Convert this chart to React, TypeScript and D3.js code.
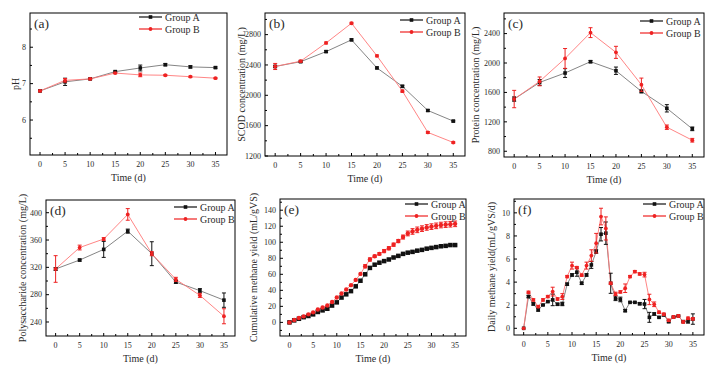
import React from 'react';
import * as d3 from 'd3';

// sampling days
const days8 = [0, 5, 10, 15, 20, 25, 30, 35];
const days36 = [0, 1, 2, 3, 4, 5, 6, 7, 8, 9, 10, 11, 12, 13, 14, 15, 16, 17, 18, 19, 20,
  21, 22, 23, 24, 25, 26, 27, 28, 29, 30, 31, 32, 33, 34, 35];

// (a) pH
const phA = [6.8, 7.05, 7.13, 7.33, 7.43, 7.52, 7.46, 7.44];
const phAErr = [0.02, 0.1, 0.02, 0.02, 0.08, 0.03, 0.03, 0.02];
const phB = [6.8, 7.09, 7.13, 7.29, 7.24, 7.23, 7.19, 7.15];
const phBErr = [0.02, 0.05, 0.02, 0.02, 0.05, 0.02, 0.02, 0.02];

// (b) SCOD
const scodA = [2380, 2443, 2576, 2731, 2361, 2118, 1800, 1660];
const scodAErr = [15, 10, 12, 12, 12, 15, 12, 10];
const scodB = [2380, 2450, 2690, 2950, 2520, 2055, 1511, 1378];
const scodBErr = [40, 12, 12, 12, 12, 15, 12, 10];

// (c) protein
const protA = [1510, 1736, 1864, 2018, 1895, 1614, 1384, 1105];
const protAErr = [30, 40, 60, 15, 50, 20, 50, 25];
const protB = [1510, 1750, 2062, 2413, 2145, 1705, 1127, 950];
const protBErr = [118, 60, 135, 67, 82, 90, 30, 25];

// (d) polysaccharide
const polyA = [317.6, 330.7, 346.3, 373, 340, 298.5, 285.9, 272];
const polyAErr = [2, 1.5, 11.7, 3, 17.5, 2, 3, 10.5];
const polyB = [317.6, 349, 361.5, 397.5, 340, 302.4, 279, 248.4];
const polyBErr = [19.5, 3.5, 2, 8.5, 3, 3, 3, 11];

// (e) cumulative methane yield
const cumA = [0, 2.5, 4.5, 6.5, 8, 10, 13, 15, 17, 21, 25, 31, 35, 39, 45, 52, 60, 68, 72, 74.5,
  76.5, 78.5, 81, 83, 85.5, 87, 88, 89.5, 90.5, 92, 93, 94, 95, 95.5, 96.5, 96.5];
const cumAErr = [0, 0, 0, 0, 0, 0, 0, 0, 0, 0, 0, 0, 0, 0, 0, 0, 0, 0, 0, 0,
  0.5, 0.5, 0.5, 0.5, 0.5, 1, 1, 1, 1, 1, 1, 1, 1, 1, 1, 1];
const cumB = [0, 3, 5.5, 7.5, 10, 12.5, 16, 18.5, 21, 25.5, 31, 36, 41, 46.5, 53, 60.5, 70, 78.5,
  82.5, 85.5, 89, 92.5, 97, 101.5, 106.5, 111, 113.5, 115.5, 117, 118.5, 119.5, 120.5, 121.5,
  122, 122.5, 123];
const cumBErr = [0, 0, 0, 0, 0, 0, 0, 0, 0, 0, 0, 0, 0, 0, 0, 0, 2, 2, 1.5, 1.5,
  2, 2, 2, 2, 2.5, 3, 3.5, 3.5, 3.5, 3.5, 3.5, 3.5, 3.5, 3.5, 3.5, 3.5];

// (f) daily methane yield
const dayA = [0, 2.75, 2.11, 1.59, 2.02, 2.31, 2.46, 2.08, 2.11, 3.82, 4.62, 4.86, 3.9, 4.62,
  5.49, 6.65, 8.15, 8.24, 3.9, 2.6, 2.5, 1.53, 2.25, 2.25, 2.13, 2.1, 0.95, 1.24, 0.95, 1.15,
  0.58, 0.98, 1.07, 0.58, 0.6, 0.8];
const dayAErr = [0, 0.1, 0.1, 0.1, 0.05, 0.05, 0.5, 0.1, 0.15, 0.1, 0.1, 0.35, 0.1, 0.1, 0.3,
  0.15, 0.58, 0.97, 0.87, 0.2, 0.2, 0.1, 0.05, 0.05, 0.1, 0.4, 0.43, 0.1, 0.05, 0.05, 0.1, 0.05,
  0.05, 0.05, 0.15, 0.45];
const dayB = [0, 3.12, 2.46, 1.88, 2.46, 2.75, 3.18, 2.54, 2.75, 4.48, 5.43, 5.26, 4.6, 5.43,
  6.3, 7.37, 9.68, 8.65, 3.9, 2.98, 3.15, 3.47, 4.48, 4.91, 4.71, 4.65, 2.5, 2.08, 1.39, 1.22,
  0.69, 0.98, 1.07, 0.55, 0.87, 0.82];
const dayBErr = [0, 0.1, 0.1, 0.1, 0.1, 0.1, 0.38, 0.1, 0.25, 0.1, 0.3, 0.1, 0.1, 0.3, 0.5, 0.85,
  0.72, 1.0, 0.1, 0.15, 0.1, 0.37, 0.1, 0.1, 0.1, 0.2, 0.45, 0.2, 0.1, 0.1, 0.1, 0.1, 0.1, 0.1,
  0.1, 0.1];

// ticks
const xTicks = [0, 5, 10, 15, 20, 25, 30, 35];
const xMinor = [2.5, 7.5, 12.5, 17.5, 22.5, 27.5, 32.5];
const groupNames = ['Group A', 'Group B'];

const FONT = "'Liberation Serif', 'DejaVu Serif', serif";
const colA = '#111';
const colB = '#ee2222';
const txt = { fontFamily: FONT, fill: '#2a2a2a' };

const panels = [
  { label: '(a)', title: 'pH', left: 30, right: 227, top: 13, bottom: 155, yDomain: [5.04, 8.94],
    yTicks: [6, 7, 8], yMinor: [5.5, 6.5, 7.5, 8.5], titleX: 15, legX: 139, legY: 17,
    xs: days8, a: phA, aErr: phAErr, b: phB, bErr: phBErr, big: false },
  { label: '(b)', title: 'SCOD concentration (mg/L)', left: 265, right: 465, top: 13, bottom: 156,
    yDomain: [1200, 3085], yTicks: [1200, 1600, 2000, 2400, 2800], yMinor: [1400, 1800, 2200, 2600, 3000],
    titleX: 241, legX: 400, legY: 20, xs: days8, a: scodA, aErr: scodAErr, b: scodB, bErr: scodBErr, big: false },
  { label: '(c)', title: 'Protein concentration (mg/L)', left: 504, right: 704, top: 13, bottom: 157,
    yDomain: [722, 2680], yTicks: [800, 1200, 1600, 2000, 2400], yMinor: [1000, 1400, 1800, 2200, 2600],
    titleX: 475, legX: 640, legY: 21, xs: days8, a: protA, aErr: protAErr, b: protB, bErr: protBErr, big: false },
  { label: '(d)', title: 'Polysaccharide concentration (mg/L)', left: 46, right: 235, top: 200, bottom: 336,
    yDomain: [219.5, 418.6], yTicks: [240, 280, 320, 360, 400], yMinor: [260, 300, 340, 380],
    titleX: 22, legX: 174, legY: 207, xs: days8, a: polyA, aErr: polyAErr, b: polyB, bErr: polyBErr, big: false },
  { label: '(e)', title: 'Cumulative methane yield (mL/gVS)', left: 280, right: 466, top: 199, bottom: 336,
    yDomain: [-17, 154], yTicks: [0, 20, 40, 60, 80, 100, 120, 140], yMinor: [-10, 10, 30, 50, 70, 90, 110, 130, 150],
    titleX: 253, legX: 405, legY: 204, xs: days36, a: cumA, aErr: cumAErr, b: cumB, bErr: cumBErr, big: true },
  { label: '(f)', title: 'Daily methane yield(mL/gVS/d)', left: 514, right: 704, top: 199, bottom: 335,
    yDomain: [-0.58, 11.2], yTicks: [0, 2, 4, 6, 8, 10], yMinor: [1, 3, 5, 7, 9, 11],
    titleX: 491, legX: 643, legY: 204, xs: days36, a: dayA, aErr: dayAErr, b: dayB, bErr: dayBErr, big: false },
];

function Marker({ cx, cy, group, big }) {
  if (group === 0) {
    const s = big ? 4.5 : 3.6;
    return <rect x={cx - s / 2} y={cy - s / 2} width={s} height={s} fill={colA} />;
  }
  return <circle cx={cx} cy={cy} r={big ? 2.2 : 1.9} fill={colB} />;
}

function Panel({ p }) {
  const x = d3.scaleLinear().domain([-2, 37.3]).range([p.left, p.right]);
  const y = d3.scaleLinear().domain(p.yDomain).range([p.bottom, p.top]);
  const line = d3.line<number>().x((d, i) => x(p.xs[i])).y(d => y(d));
  const series = [
    { vals: p.a, err: p.aErr, col: colA, lineCol: '#777' },
    { vals: p.b, err: p.bErr, col: colB, lineCol: '#f77' },
  ];

  return (
    <g>
      {/* connecting lines */}
      {series.map((s, gi) => (
        <path key={'l' + gi} d={line(s.vals) || ''} fill="none" stroke={s.lineCol} strokeWidth={0.9} />
      ))}
      {/* error bars + markers */}
      {series.map((s, gi) => (
        <g key={'m' + gi}>
          {s.vals.map((v, i) => {
            const cx = x(p.xs[i]);
            const e = s.err[i];
            return (
              <g key={i}>
                {e > 0 && (
                  <g stroke={s.col} strokeWidth={1}>
                    <line x1={cx} x2={cx} y1={y(v - e)} y2={y(v + e)} />
                    <line x1={cx - 2} x2={cx + 2} y1={y(v - e)} y2={y(v - e)} />
                    <line x1={cx - 2} x2={cx + 2} y1={y(v + e)} y2={y(v + e)} />
                  </g>
                )}
                <Marker cx={cx} cy={y(v)} group={gi} big={p.big} />
              </g>
            );
          })}
        </g>
      ))}

      {/* frame */}
      <rect x={p.left} y={p.top} width={p.right - p.left} height={p.bottom - p.top}
        fill="none" stroke="#000" strokeWidth={1} />

      {/* y ticks (inward) */}
      {p.yTicks.map(t => (
        <g key={'yt' + t}>
          <line x1={p.left} x2={p.left + 3} y1={y(t)} y2={y(t)} stroke="#000" />
          <text x={p.left - 4} y={y(t)} dy="0.35em" textAnchor="end" fontSize={8} style={txt}>{t}</text>
        </g>
      ))}
      {p.yMinor.filter(t => y(t) > p.top && y(t) < p.bottom).map(t => (
        <line key={'ym' + t} x1={p.left} x2={p.left + 2} y1={y(t)} y2={y(t)} stroke="#000" />
      ))}

      {/* x ticks (inward) */}
      {xTicks.map(t => (
        <g key={'xt' + t}>
          <line x1={x(t)} x2={x(t)} y1={p.bottom} y2={p.bottom - 3} stroke="#000" />
          <text x={x(t)} y={p.bottom + 12} textAnchor="middle" fontSize={8} style={txt}>{t}</text>
        </g>
      ))}
      {xMinor.map(t => (
        <line key={'xm' + t} x1={x(t)} x2={x(t)} y1={p.bottom} y2={p.bottom - 2} stroke="#000" />
      ))}

      {/* titles */}
      <text x={(p.left + p.right) / 2} y={p.bottom + 22.5} dy="0.35em" textAnchor="middle" fontSize={10} style={txt}>Time (d)</text>
      <text transform={`translate(${p.titleX},${(p.top + p.bottom) / 2}) rotate(-90)`} dy="0.35em"
        textAnchor="middle" fontSize={10} style={txt}>{p.title}</text>
      <text x={p.left + 4} y={p.top + 14.5} fontSize={13.5} style={txt}>{p.label}</text>

      {/* legend */}
      {groupNames.map((name, gi) => {
        const ly = p.legY + gi * 12;
        const c = gi === 0 ? colA : colB;
        return (
          <g key={name}>
            <line x1={p.legX} x2={p.legX + 23} y1={ly} y2={ly} stroke={c} strokeWidth={1.2} />
            <Marker cx={p.legX + 11.5} cy={ly} group={gi} big={false} />
            <text x={p.legX + 26} y={ly} dy="0.35em" fontSize={10} style={txt}>{name}</text>
          </g>
        );
      })}
    </g>
  );
}

export default function App() {
  return (
    <svg width={715} height={368} style={{ position: 'absolute', left: 0, top: 0, background: '#fff' }}>
      <rect width={715} height={368} fill="#fff" />
      {panels.map(p => <Panel key={p.label} p={p} />)}
    </svg>
  );
}
